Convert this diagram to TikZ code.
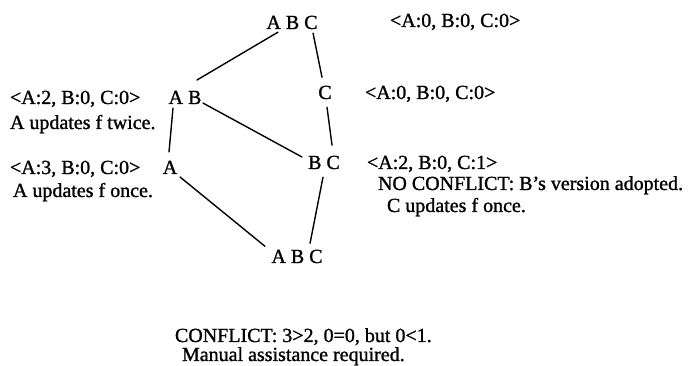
\documentclass[tikz,border=0pt]{standalone}
\usepackage{fontspec}
\setmainfont{Liberation Serif}[RawFeature={embolden=1.2}]
\usetikzlibrary{calc}
\begin{document}
\begin{tikzpicture}[x=1pt,y=-1pt,
  every node/.style={inner sep=0pt,outer sep=0pt,font=\fontsize{20}{22}\selectfont},
  site/.style={anchor=base},
  note/.style={anchor=base west},
  link/.style={line width=1.4pt,line cap=round}]
\useasboundingbox (0,0) rectangle (689,366);
% sites
\node[site] (t)  at (292,29)  {A B C};
\node[site] (ab) at (185,104) {A B};
\node[site] (c)  at (325,99)  {C};
\node[site] (a)  at (170,174) {A};
\node[site] (bc) at (324,169) {B C};
\node[site] (b)  at (297,263) {A B C};
% notes
\node[note] (lt)   at (390,27)  {<A:0, B:0, C:0>};
\node[note] (lab1) at (10,104)  {<A:2, B:0, C:0>};
\node[note] (lab2) at (10,129)  {A updates f twice.};
\node[note] (lc)   at (365,99)  {<A:0, B:0, C:0>};
\node[note] (la1)  at (10,174)  {<A:3, B:0, C:0>};
\node[note] (la2)  at (13,197)  {A updates f once.};
\node[note] (lbc1) at (367,169) {<A:2, B:0, C:1>};
\node[note] (lbc2) at (378,190) {NO CONFLICT: B's version adopted.};
\node[note] (lbc3) at (387,212) {C updates f once.};
\node[note] (cf1)  at (175,342) {CONFLICT: 3>2, 0=0, but 0<1.};
\node[note] (cf2)  at (182,361) {Manual assistance required.};
% connectors
\draw[link] ($(t.south west)+(11.5,3)$) -- ($(ab.north east)+(-4.4,-10.8)$);
\draw[link] ($(t.south east)+(-4.5,4)$) -- ($(c.north)+(-3,-8.5)$);
\draw[link] ($(ab.south west)+(4.4,4)$) -- ($(a.north)+(-1,-8.8)$);
\draw[link] ($(ab.south east)+(1.6,-1)$) -- ($(bc.base west)+(-6.2,-12)$);
\draw[link] ($(c.south)+(2,8)$) -- ($(bc.north east)+(-7.8,-10.5)$);
\draw[link] ($(a.south east)+(2.8,3)$) -- ($(b.north west)+(-6.5,-3.5)$);
\draw[link] ($(bc.south)+(-1,8)$) -- ($(b.north east)+(-12.5,-6.5)$);
\end{tikzpicture}
\end{document}
